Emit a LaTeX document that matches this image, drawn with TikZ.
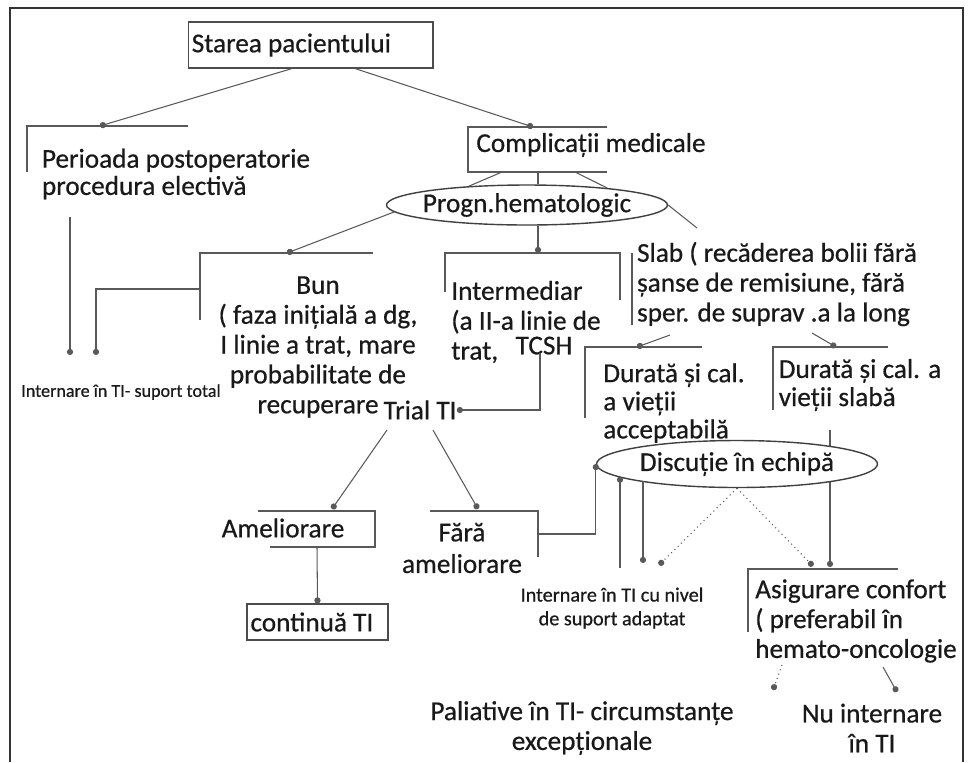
\documentclass[tikz,border=0pt]{standalone}
\usepackage{fontspec}
\setmainfont{Carlito}[FakeBold=0.6]
\usetikzlibrary{shapes,arrows.meta,positioning,calc}

\begin{document}
\begin{tikzpicture}[x=0.02cm, y=-0.02cm,
    txt/.style={font=\fontsize{15.5}{17}\selectfont, text=black!90, inner sep=0pt, align=left},
    small/.style={font=\fontsize{10.3}{12}\selectfont, text=black!90, inner sep=0pt, align=center},
    box/.style={rectangle, draw=black!70, line width=0.6pt, text=black!90, font=\fontsize{15.5}{17}\selectfont, inner sep=2pt, align=flush left},
    oval/.style={ellipse, draw=black!75, line width=0.8pt, fill=white, text=black!90, font=\fontsize{15.5}{17}\selectfont, inner sep=0pt, inner xsep=-0.2cm},
    frame/.style={draw=black!65, line width=0.6pt},
    line/.style={draw=black!65, line width=0.6pt},
    arrow/.style={line, -{Circle[length=3.5pt]}},
    dotarrow/.style={arrow, dotted}]

    \useasboundingbox (0,0) rectangle (969,762);
    \draw[line width=1.2pt, black!80] (10,762) -- (10,8) -- (963,8) -- (963,762);

    % points where the connectors meet the open frames
    \coordinate (perioada in) at (100,126);
    \coordinate (perioada out) at (70,217);
    \coordinate (compl in) at (533,127);
    \coordinate (cb1) at (502,172);
    \coordinate (cb2) at (538,172);
    \coordinate (cb3) at (575,172);
    \coordinate (bun in) at (287,253);
    \coordinate (bun side) at (200,289);
    \coordinate (int1 a) at (70,355);
    \coordinate (int1 b) at (96,355);
    \coordinate (inter in) at (538,253);
    \coordinate (inter out) at (540,353);
    \coordinate (slab in) at (697,228);
    \coordinate (slab outL) at (670,335);
    \coordinate (slab outR) at (812,333);
    \coordinate (dur1 in) at (637,347);
    \coordinate (dur2 in) at (836,347);
    \coordinate (dur2 out) at (830,430);
    \coordinate (trial outL) at (387,430);
    \coordinate (trial outR) at (433,430);
    \coordinate (ame in) at (332,509);
    \coordinate (ame out) at (317,547);
    \coordinate (fara in) at (478,509);
    \coordinate (fara side) at (538,534);
    \coordinate (int2 up) at (620,568);
    \coordinate (int2 down) at (643,563);
    \coordinate (int2 dot) at (659,565);
    \coordinate (asig inL) at (813,566);
    \coordinate (asig inR) at (830,567);
    \coordinate (asig outL) at (782,665);
    \coordinate (asig outR) at (883,667);
    \coordinate (pal in) at (773,690);
    \coordinate (nu in) at (897,692);

    % nodes
    \node[box, minimum width=4.9cm, minimum height=0.92cm, text width=4.75cm] (stare) at (310.5,45) {Starea pacientului};
    \node[txt, font=\fontsize{15.5}{15.5}\selectfont] (perioada) at (176,174) {Perioada postoperatorie\\procedura electivă};
    \node[txt] (compl) at (591,145) {Complicații medicale};
    \node[oval, minimum width=5.62cm, minimum height=0.8cm] (progn) at (527,205) {Progn.hematologic};
    \node[small] (int1) at (121,392) {Internare în TI- suport total};
    \node[txt, align=center] (bun) at (318,347) {Bun\\( faza inițială a dg,\\I linie a trat, mare\\probabilitate de\\recuperare};
    \node[txt] (inter) at (526,322) {Intermediar\\(a II-a linie de\\trat,\hspace{10pt}\raisebox{3pt}{TCSH}};
    \node[txt] (slab) at (777,284) {Slab ( recăderea bolii fără\\șanse de remisiune, fără\\sper. de suprav .a la long};
    \node[txt, font=\fontsize{15.5}{16}\selectfont] (dur1) at (674,403) {Durată și cal.\\a vieții\\acceptabilă};
    \node[txt, font=\fontsize{15.5}{16}\selectfont] (dur2) at (860,385) {Durată și cal. a\\vieții slabă};
    \node[txt] (trial) at (420,410) {Trial TI};
    \node[txt] (ame) at (283,528) {Ameliorare};
    \node[box, minimum width=2.82cm, minimum height=0.72cm, text width=2.68cm] (cont) at (317.5,622) {continuă TI};
    \node[txt, align=center, font=\fontsize{15.5}{18}\selectfont] (fara) at (462,548) {Fără\\ameliorare};
    \node[small, font=\fontsize{11.5}{13.5}\selectfont] (int2) at (612,608) {Internare în TI cu nivel\\de suport adaptat};
    \node[txt] (asig) at (856,621) {Asigurare confort\\( preferabil în\\hemato-oncologie};
    \node[txt, align=center] (pal) at (582,728) {Paliative în TI- circumstanțe\\excepționale};
    \node[txt, align=center] (nu) at (872,728) {Nu internare\\în TI};

    % open frames
    \draw[frame] (27,172) -- (27,126) -- (188,126);
    \draw[frame] (607,127) -- (468,127) -- (468,172) -- (607,172);
    \draw[frame] (200,320) -- (200,253) -- (373,253);
    \draw[frame] (445,292) -- (445,253) -- (620,253) -- (620,300);
    \draw[frame] (632,253) -- (632,325);
    \draw[frame] (585,418) -- (585,347) -- (702,347);
    \draw[frame] (773,410) -- (773,347) -- (888,347);
    \draw[frame] (258,511) -- (375,511) -- (375,547) -- (270,547);
    \draw[frame] (430,511) -- (538,511) -- (538,557);
    \draw[frame] (748,632) -- (748,569) -- (898,569);

    % connectors
    \draw[arrow] ([xshift=-0.37cm]stare.south) -- (perioada in);
    \draw[arrow] ([xshift=0.89cm]stare.south) -- (compl in);
    \draw[line] (cb1) -- (progn.162);
    \draw[line] (cb2) -- (cb2 |- progn.north);
    \draw[line] (cb3) -- (progn.12);
    \draw[line] (progn.east) -- (slab in);
    \draw[arrow] (progn.183) -- (bun in);
    \draw[arrow] (inter in |- progn.south) -- (inter in);
    \draw[arrow] (perioada out) -- (int1 a);
    \draw[arrow] (bun side) -| (int1 b);
    \draw[arrow] (inter out) |- (trial.east);
    \draw[arrow] (slab outL) -- (dur1 in);
    \draw[arrow] (slab outR) -- (dur2 in);
    \draw[arrow] (trial outL) -- (ame in);
    \draw[arrow] (trial outR) -- (fara in);
    \draw[arrow] (ame out) -- (cont.north);
    \draw[arrow] (dur2 out) -- (asig inR);

    \node[oval, minimum width=5.62cm, minimum height=0.94cm] (disc) at (737,464) {Discuție în echipă};

    \draw[arrow] (fara side) -| (disc.west);
    \draw[arrow] (int2 up) -- (int2 up |- disc.186);
    \draw[arrow] (disc.190 -| int2 down) -- (int2 down);
    \draw[dotarrow] (disc.south) -- (int2 dot);
    \draw[dotarrow] (disc.south) -- (asig inL);
    \draw[dotarrow] (asig outL) -- (pal in);
    \draw[arrow] (asig outR) -- (nu in);
\end{tikzpicture}
\end{document}
